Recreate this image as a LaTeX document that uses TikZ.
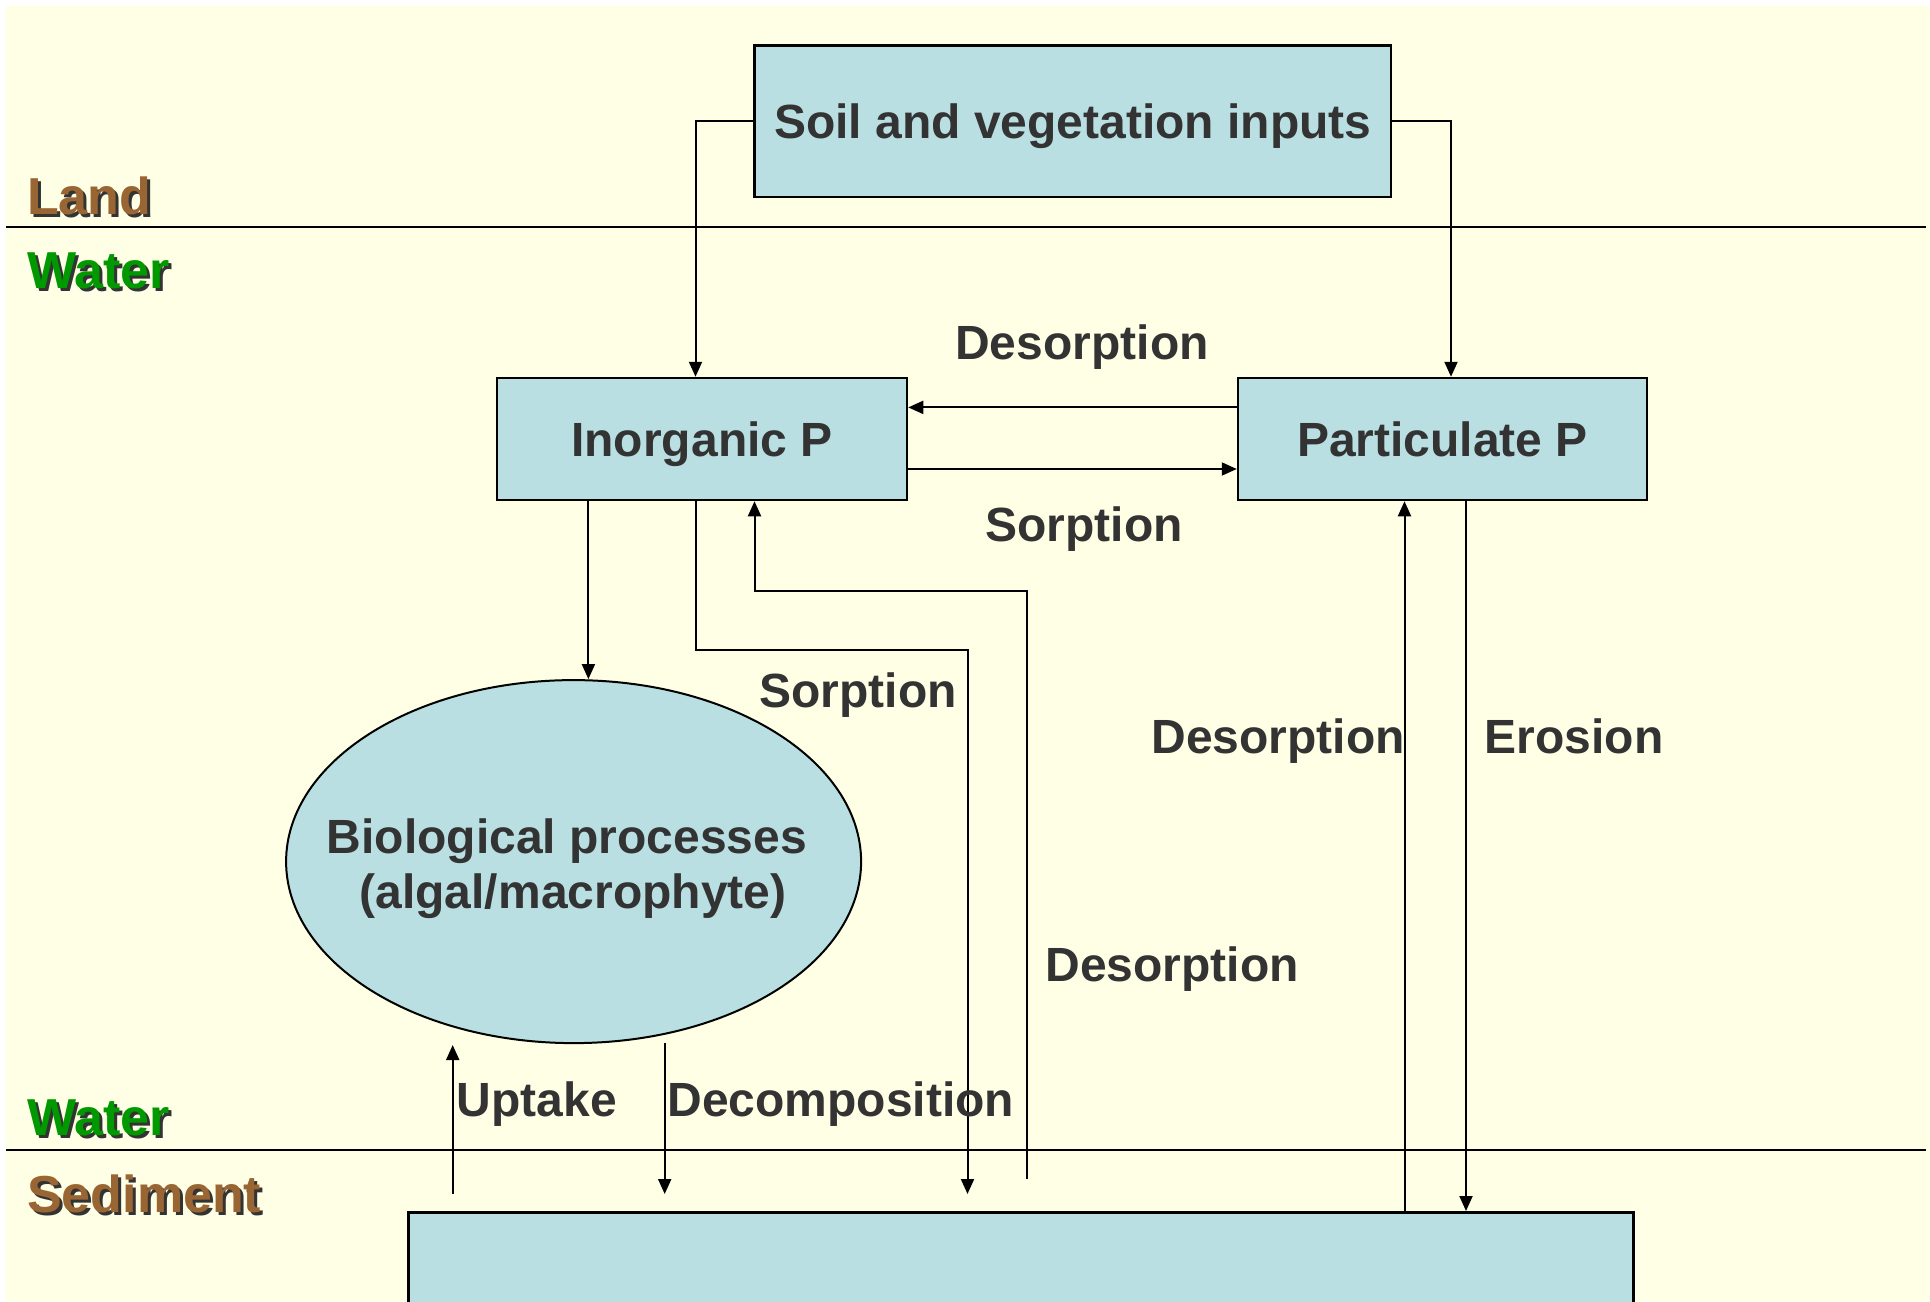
\documentclass[tikz,border=0pt]{standalone}
\usepackage{fontspec}
\setmainfont{Liberation Sans}
\usetikzlibrary{shapes.geometric,arrows.meta}
\definecolor{bgcream}{RGB}{255,255,230}
\definecolor{boxfill}{RGB}{185,223,227}
\definecolor{txtgray}{RGB}{51,51,51}
\definecolor{landbrown}{RGB}{153,102,51}
\definecolor{watergreen}{RGB}{0,153,0}
\tikzset{
  bigfont/.style={font=\bfseries\fontsize{48}{55}\selectfont, text=txtgray},
  zonefont/.style={font=\bfseries\fontsize{52}{58}\selectfont, anchor=west, inner sep=0pt},
  pbox/.style={draw=black, line width=2.5pt, fill=boxfill, inner sep=0pt, bigfont, text depth=0pt},
  arr/.style={line width=2pt, -{Triangle[length=15pt,width=13pt]}},
  plain/.style={line width=2pt},
  lbl/.style={bigfont, inner sep=0pt, text depth=0pt}
}
\begin{document}
\begin{tikzpicture}[x=1pt,y=-1pt]
\clip (0,0) rectangle (1930,1301);
\fill[white] (0,0) rectangle (1930,1301);
\fill[bgcream] (6,6) rectangle (1930,1301);

% zone lines
\draw[plain] (6,226.5) coordinate (l1a) -- (1926,226.5) coordinate (l1b);
\draw[plain] (6,1149.7) coordinate (l2a) -- (1926,1149.7) coordinate (l2b);

% zone labels with shadow
\node[zonefont, text=black!80] (lands) at (30,199) {Land};
\node[zonefont, text=landbrown] (land) at (27,196) {Land};
\node[zonefont, text=black!80] (water1s) at (30,274) {Water};
\node[zonefont, text=watergreen] (water1) at (27,271) {Water};
\node[zonefont, text=black!80] (water2s) at (30,1121) {Water};
\node[zonefont, text=watergreen] (water2) at (27,1118) {Water};
\node[zonefont, text=black!80] (seds) at (30,1197) {Sediment};
\node[zonefont, text=landbrown] (sedl) at (27,1194) {Sediment};

% boxes
\node[pbox, minimum width=636.5pt, minimum height=151.5pt] (soil) at (1072.7,121.3) {Soil and vegetation inputs};
\node[pbox, minimum width=410pt, minimum height=122pt] (inorg) at (702,439) {Inorganic P};
\node[pbox, minimum width=409pt, minimum height=122pt] (part) at (1442.5,439) {Particulate P};
\node[pbox, ellipse, minimum width=575pt, minimum height=363pt, line width=2pt] (bio) at (573.6,861.6) {};
\node[lbl] (biotext1) at (567,836) {Biological processes};
\node[lbl] (biotext2) at (573,891) {(algal/macrophyte)};
\node[pbox, anchor=north west, minimum width=1224.6pt, minimum height=140pt] (sed) at (407.4,1211) {};

% free-end coordinates
\coordinate (s1) at (967.5,1194);
\coordinate (d1) at (1026.6,1179);
\coordinate (u0) at (452.7,1194);
\coordinate (u1) at (452.7,1045);
\coordinate (c0) at (664.7,1043);
\coordinate (c1) at (664.7,1194);

% connectors
\draw[arr] (soil.west) -| ([xshift=-6.5pt]inorg.north);
\draw[arr] (soil.east) -| ([xshift=8.5pt]part.north);
\draw[arr] ([yshift=31.6pt]part.west) -- ([yshift=31.6pt]inorg.east);
\draw[arr] ([yshift=-30pt]inorg.east) -- ([yshift=-30pt]part.west);
\draw[arr] ([xshift=-113.6pt]inorg.south) -- ([xshift=-113.6pt]inorg.south |- bio.north);
\draw[arr] ([xshift=-6.5pt]inorg.south) |- (967.5,650) -- (s1);
\draw[arr] (d1) |- (754.5,590.8) -- ([xshift=52.5pt]inorg.south);
\draw[arr] ([xshift=-38pt]part.south |- sed.north) -- ([xshift=-38pt]part.south);
\draw[arr] ([xshift=23.5pt]part.south) -- ([xshift=23.5pt]part.south |- sed.north);
\draw[arr] (u0) -- (u1);
\draw[arr] (c0) -- (c1);

% labels
\node[lbl] (tdes1) at (1082,342) {Desorption};
\node[lbl] (tsor1) at (1084,524) {Sorption};
\node[lbl] (tsor2) at (858,690.5) {Sorption};
\node[lbl] (tdes2) at (1278,736) {Desorption};
\node[lbl] (tero) at (1574,736) {Erosion};
\node[lbl] (tdes3) at (1172,964) {Desorption};
\node[lbl] (tupt) at (536.7,1099) {Uptake};
\node[lbl] (tdec) at (840.7,1099) {Decomposition};
\end{tikzpicture}
\end{document}
